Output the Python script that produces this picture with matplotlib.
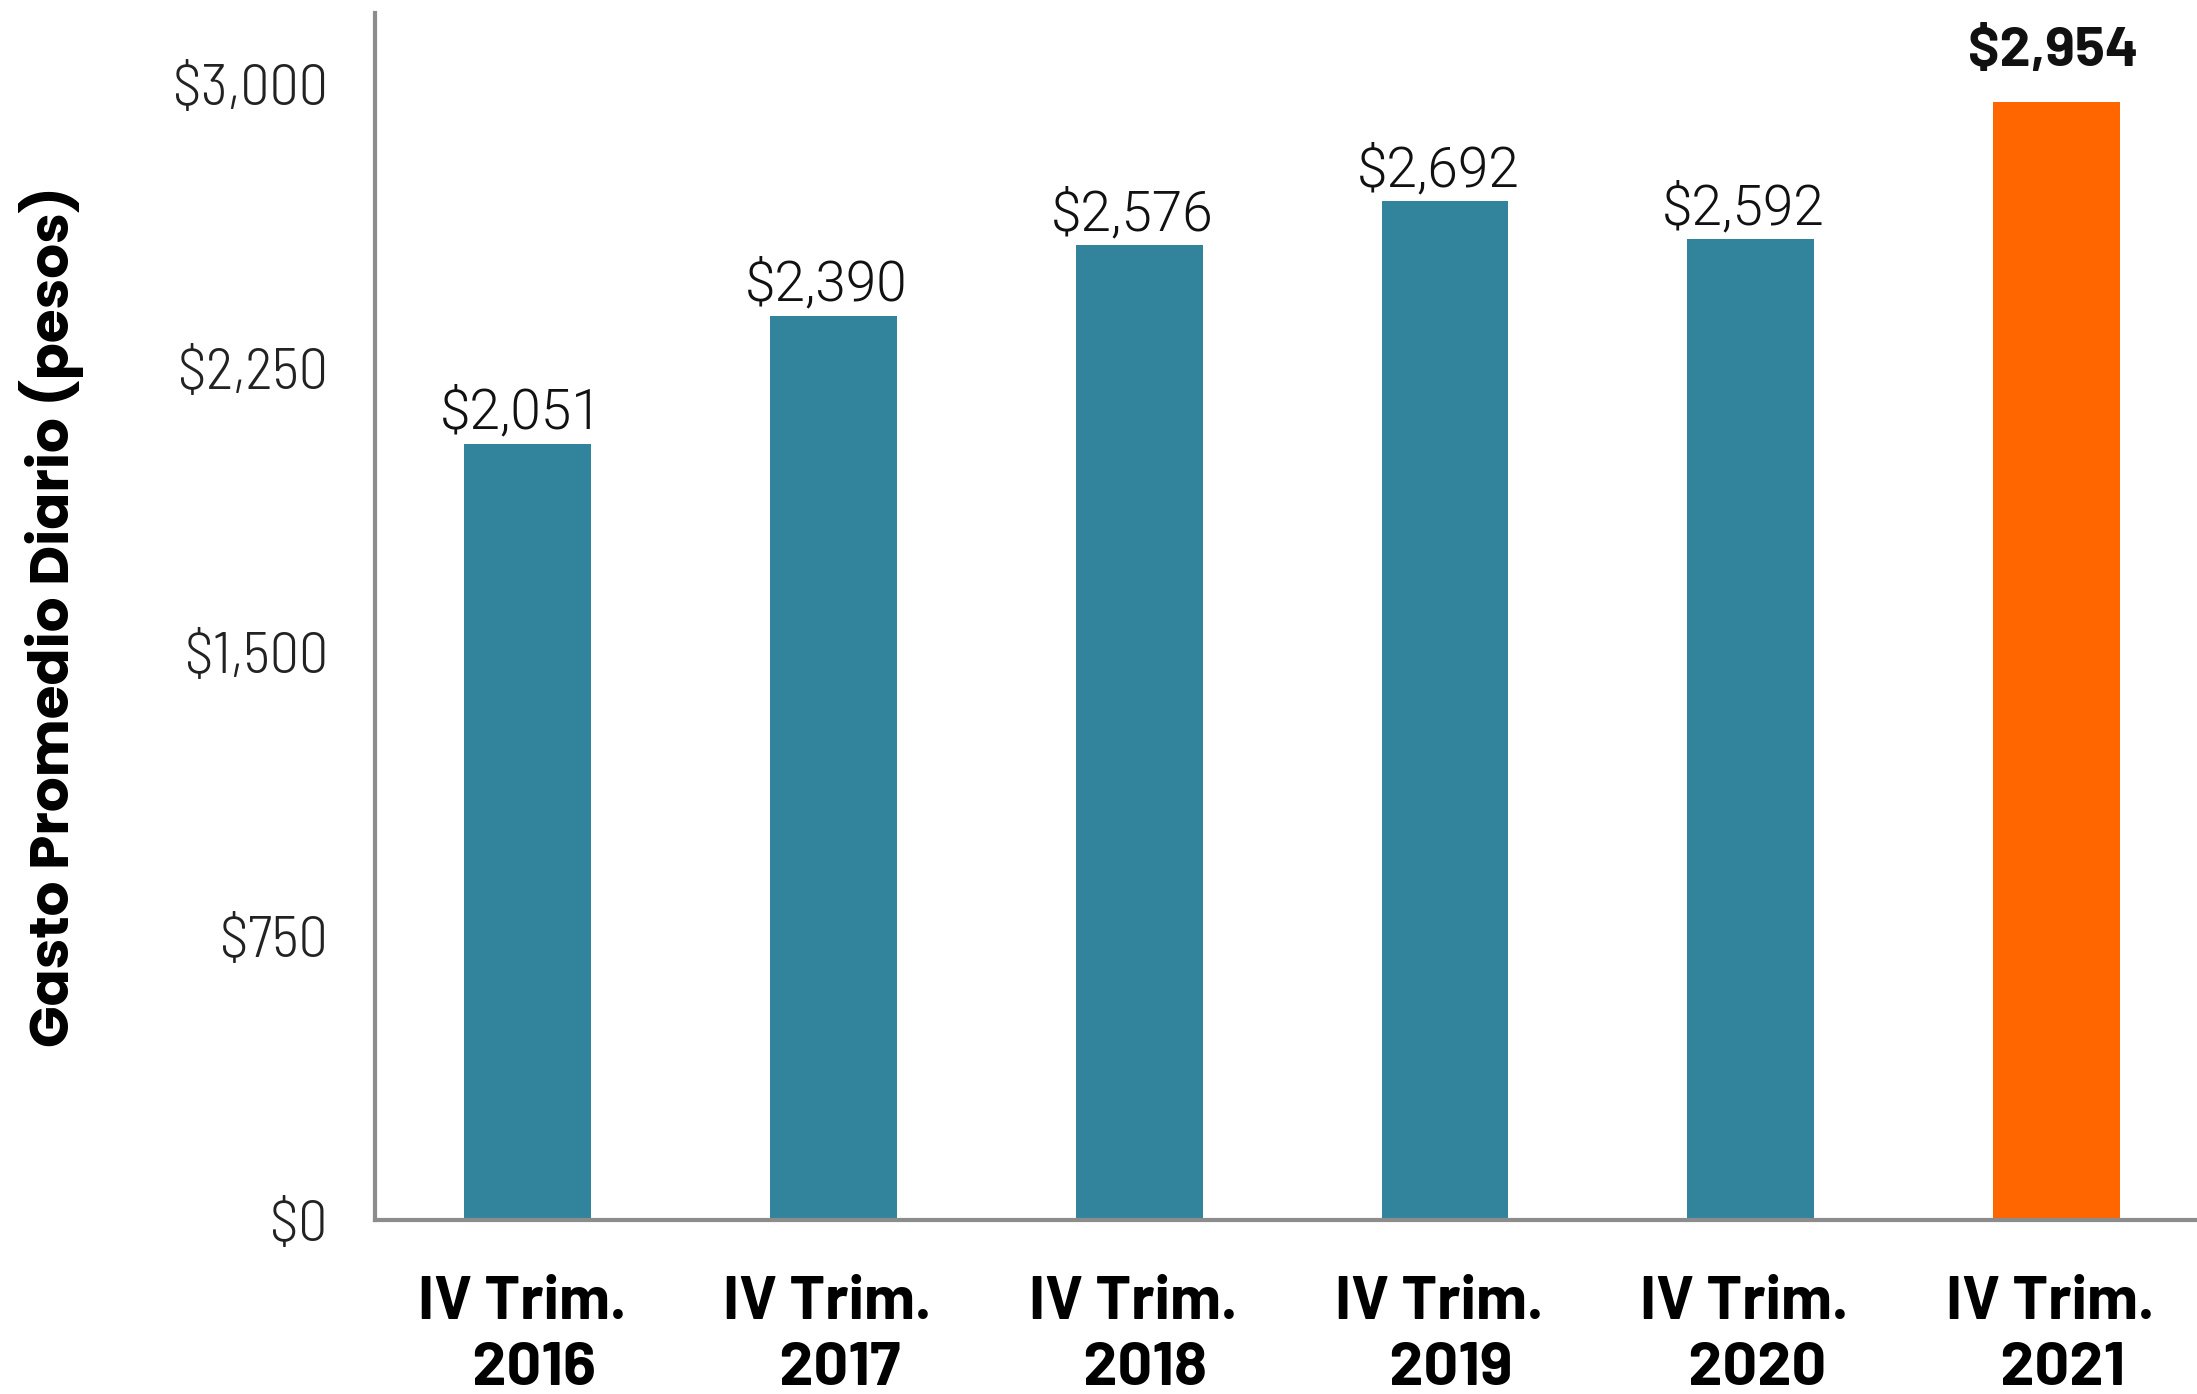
import matplotlib
matplotlib.use("Agg")
import matplotlib.pyplot as plt

periodos = ["IV Trim. \n 2016", "IV Trim. \n 2017", "IV Trim. \n 2018",
            "IV Trim. \n 2019", "IV Trim. \n 2020", "IV Trim. \n 2021"]
gasto = [2051, 2390, 2576, 2692, 2592, 2954]
colores = ["#31849b"] * 5 + ["#ff6600"]
yticks = [0, 750, 1500, 2250, 3000]

fig = plt.figure(figsize=(21.97, 13.94), dpi=100)
ax = fig.add_axes([0.1707, 0.1248, 0.8293, 0.8659])

x = range(len(gasto))
bars = ax.bar(x, gasto, width=0.415, color=colores)

for i, (b, v) in enumerate(zip(bars, gasto)):
    if i == len(gasto) - 1:
        ax.annotate(f"${v:,}", (b.get_x() + b.get_width() / 2, v),
                    xytext=(-2, 19), textcoords="offset points",
                    ha="center", va="bottom", fontsize=40,
                    family="Barlow", fontweight=700, color="#111111")
    else:
        ax.annotate(f"${v:,}", (b.get_x() + b.get_width() / 2, v),
                    xytext=(-5, 3), textcoords="offset points",
                    ha="center", va="bottom", fontsize=39.5,
                    family="Roboto", fontweight=300, color="#111111")

ax.set_xlim(-0.5, 5.46)
ax.set_ylim(0, 3190)
ax.set_yticks(yticks)
ax.set_yticklabels([f"${t:,}" for t in yticks], fontsize=42,
                   family="Barlow Semi Condensed", fontweight=300, color="#222222")
ax.set_xticks(list(x))
ax.set_xticklabels(periodos, fontsize=44, family="Barlow",
                   fontweight=700, linespacing=1.3)
ax.tick_params(axis="both", length=0)
ax.tick_params(axis="y", pad=34)
ax.tick_params(axis="x", pad=40)

for s in ["top", "right"]:
    ax.spines[s].set_visible(False)
for s in ["left", "bottom"]:
    ax.spines[s].set_color("#8c8c8c")
    ax.spines[s].set_linewidth(3)

ax.set_ylabel("Gasto Promedio Diario (pesos)", fontsize=39.5, family="Poppins",
              fontweight=700)
ax.yaxis.set_label_coords(-0.160, 0.5)

fig.savefig("out.png", dpi=100)
